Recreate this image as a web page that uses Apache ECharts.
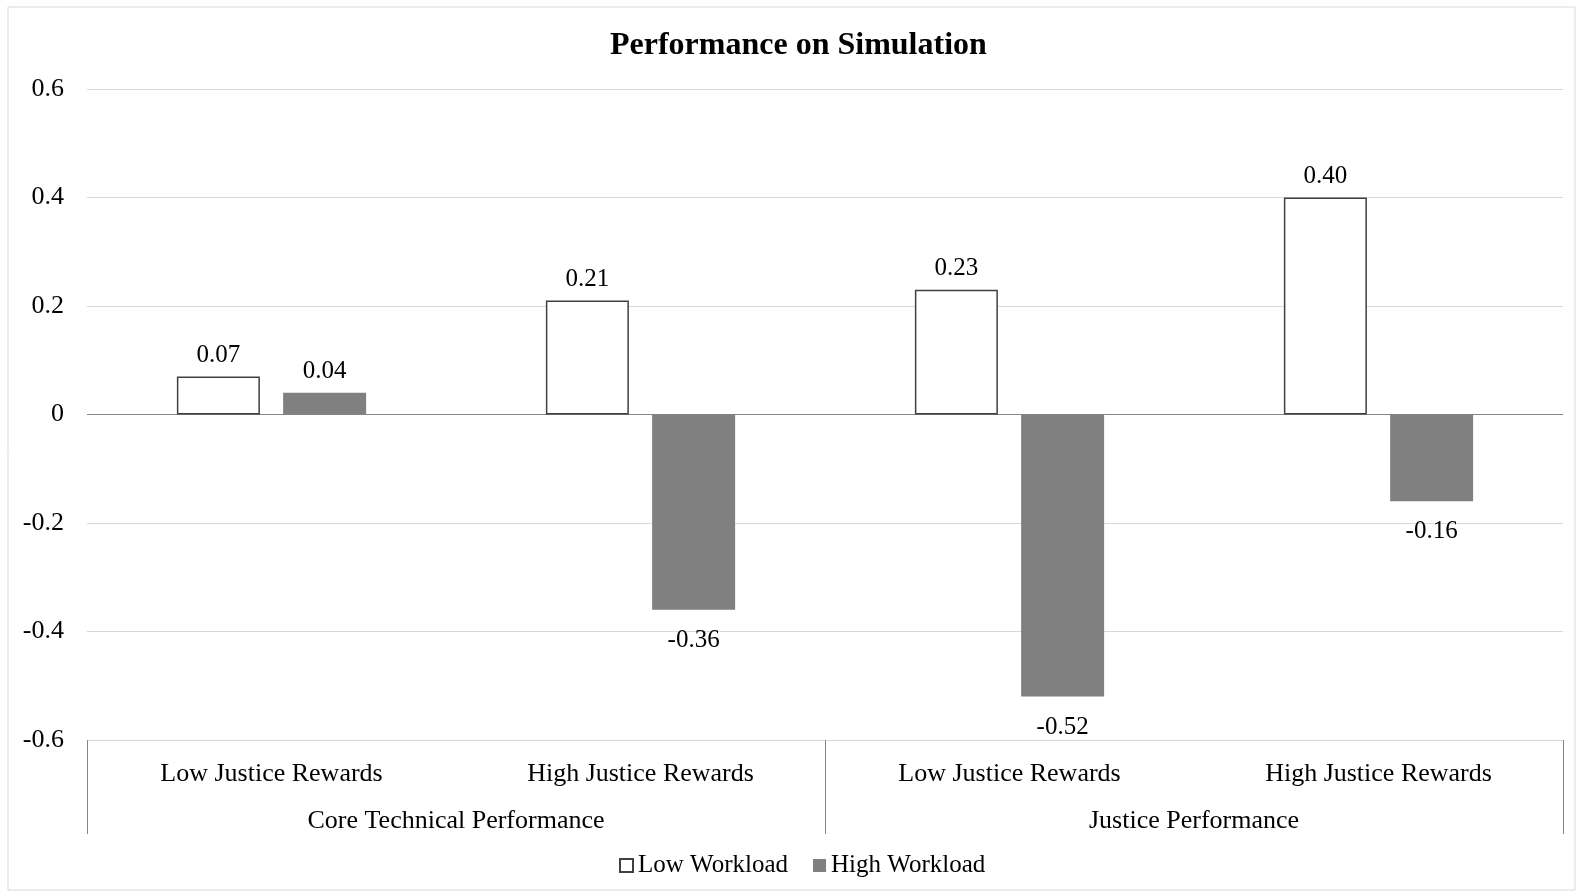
<!DOCTYPE html>
<html>
<head>
<meta charset="utf-8">
<script src="https://cdn.jsdelivr.net/npm/echarts@6/dist/echarts.min.js"></script>
<style>
html,body{margin:0;padding:0;background:#fff;}
#chart{width:1579px;height:892px;}
</style>
</head>
<body>
<div id="chart"></div>
<script>
const subCategories = ['Low Justice Rewards', 'High Justice Rewards', 'Low Justice Rewards', 'High Justice Rewards'];
const groupCategories = ['Core Technical Performance', 'Justice Performance'];
const lowWorkload = [0.07, 0.21, 0.23, 0.40];
const highWorkload = [0.04, -0.36, -0.52, -0.16];
const yTicks = [-0.6, -0.4, -0.2, 0, 0.2, 0.4, 0.6];

const FONT = '"Liberation Serif", "Times New Roman", serif';

function toItems(arr) {
  return arr.map(v => ({
    value: v,
    label: v < 0 ? { position: 'bottom', distance: 18 } : { position: 'top', distance: 9 }
  }));
}

const chart = echarts.init(document.getElementById('chart'), null, { renderer: 'canvas' });
chart.setOption({
  backgroundColor: '#fff',
  animation: false,
  textStyle: { fontFamily: FONT },
  graphic: [{
    type: 'rect',
    shape: { x: 8, y: 7, width: 1567, height: 883 },
    style: { fill: 'none', stroke: '#d9d9d9', lineWidth: 1 },
    silent: true, z: -1
  }],
  title: {
    text: 'Performance on Simulation',
    left: 605,
    top: 25,
    textStyle: { fontFamily: FONT, fontSize: 32, fontWeight: 'bold', color: '#000' }
  },
  legend: {
    data: ['Low Workload', 'High Workload'],
    left: 614,
    top: 848,
    icon: 'rect',
    itemWidth: 13,
    itemHeight: 13,
    itemGap: 25,
    textStyle: { fontFamily: FONT, fontSize: 25, color: '#000' }
  },
  grid: { left: 87, right: 16, top: 89, bottom: 152, containLabel: false },
  xAxis: [{
    type: 'category',
    data: subCategories,
    position: 'bottom',
    axisLine: { show: false, onZero: false },
    axisTick: { show: false },
    axisLabel: { interval: 0, margin: 21, fontFamily: FONT, fontSize: 26, color: '#000' },
    splitLine: { show: false }
  }, {
    type: 'category',
    data: groupCategories,
    position: 'bottom',
    gridIndex: 0,
    axisLine: { show: false, onZero: false },
    axisTick: { show: true, interval: 0, length: 94, alignWithLabel: false, lineStyle: { color: '#868686', width: 1 } },
    axisLabel: { interval: 0, margin: 68, fontFamily: FONT, fontSize: 26, color: '#000' },
    splitLine: { show: false }
  }],
  yAxis: {
    type: 'value',
    min: yTicks[0],
    max: yTicks[yTicks.length - 1],
    interval: 0.2,
    axisLine: { show: false },
    axisTick: { show: false },
    axisLabel: {
      margin: 23,
      fontFamily: FONT, fontSize: 26, color: '#000',
      formatter: v => {
        const r = Math.round(v * 10) / 10;
        return r === 0 ? '0' : r.toFixed(1);
      }
    },
    splitLine: { show: true, lineStyle: { color: '#d9d9d9', width: 1 } }
  },
  series: [{
    name: 'Low Workload',
    type: 'bar',
    xAxisIndex: 0,
    data: toItems(lowWorkload),
    barWidth: 83,
    barGap: '28%',
    itemStyle: { color: '#ffffff', borderColor: '#404040', borderWidth: 1.5 },
    label: {
      show: true, fontFamily: FONT, fontSize: 25, color: '#000',
      formatter: p => p.value.toFixed(2)
    },
    markLine: {
      silent: true, symbol: 'none',
      label: { show: false },
      lineStyle: { color: '#868686', type: 'solid', width: 1.2 },
      data: [{ yAxis: 0 }],
      z: 1
    }
  }, {
    name: 'High Workload',
    type: 'bar',
    xAxisIndex: 0,
    data: toItems(highWorkload),
    barWidth: 83,
    barGap: '28%',
    itemStyle: { color: '#808080' },
    label: {
      show: true, fontFamily: FONT, fontSize: 25, color: '#000',
      formatter: p => p.value.toFixed(2)
    }
  }]
});
</script>
</body>
</html>
